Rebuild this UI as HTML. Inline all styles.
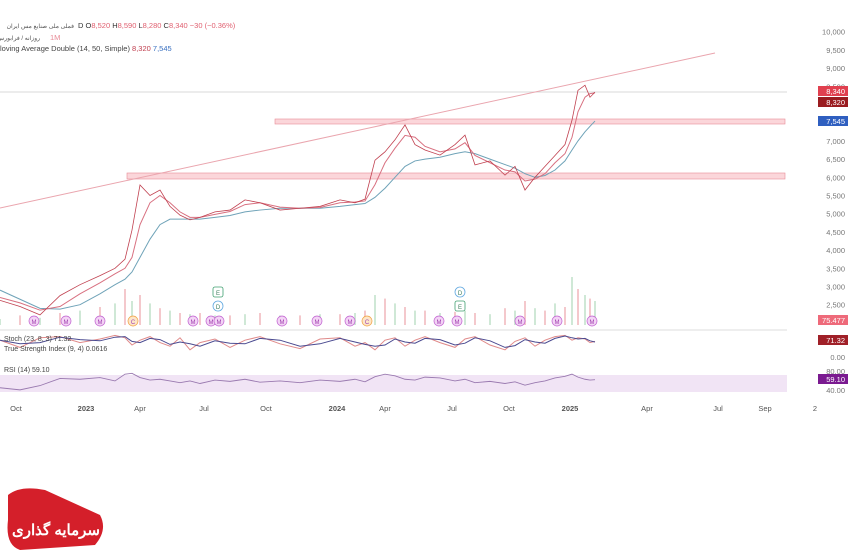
<!DOCTYPE html>
<html><head><meta charset="utf-8"><style>
body{margin:0;background:#fff;width:850px;height:560px;overflow:hidden;font-family:"Liberation Sans","Noto Sans CJK SC",sans-serif}
svg{position:absolute;left:0;top:0}
</style></head><body>
<svg id="c" width="850" height="560">
<g id="legend" font-size="7.5">
<text x="74" y="28" fill="#555" font-size="6" text-anchor="end">فملی ملی صنایع مس ایران</text>
<text x="78" y="28" fill="#333">D  O<tspan fill="#e06070">8,520</tspan>  H<tspan fill="#e06070">8,590</tspan>  L<tspan fill="#e06070">8,280</tspan>  C<tspan fill="#e06070">8,340  −30 (−0.36%)</tspan></text>
<text x="40" y="40" fill="#555" font-size="6" text-anchor="end">روزانه / فرابورس</text>
<text x="50" y="40" fill="#e88a96">1M</text>
<text x="0" y="51" fill="#444">loving Average Double (14, 50, Simple)  <tspan fill="#c04050">8,320</tspan>  <tspan fill="#3a70c0">7,545</tspan></text>
</g>
<g id="plot"></g>
<g id="axis" font-size="7.5" fill="#777"></g>
<g>
<path d="M8 495 Q20 485 45 490 L100 515 Q108 530 95 545 L20 550 Q5 545 8 520Z" fill="#d41f2a"/>
<text x="56" y="535" font-size="15" fill="#fff" font-weight="bold" text-anchor="middle">سرمایه گذاری</text>
</g>
</svg>
<script>
const dates=[0,20,40,60,80,100,115,125,132,140,150,160,170,180,190,200,215,230,245,260,280,300,320,340,355,365,375,385,395,405,415,425,440,455,465,475,490,505,515,525,535,545,555,565,572,578,585,590,595];
const closes=[2620,2450,2220,2750,3050,3300,3500,3750,4550,5790,5500,5650,5200,4960,4830,4900,5050,5100,5380,5300,5100,5150,5200,5380,5300,5400,6470,6700,7030,7440,6900,6750,6610,6900,7160,6340,6450,6060,6300,5650,6000,6300,6600,6900,7570,8390,8530,8200,8340];
const ma14=[2700,2550,2350,2450,2800,3100,3350,3500,3800,4700,5300,5500,5300,5050,4900,4900,4980,5060,5250,5300,5180,5150,5170,5300,5320,5350,5800,6400,6800,7150,7100,6850,6700,6780,6950,6600,6400,6200,6150,5900,5950,6100,6400,6650,7100,7800,8200,8300,8320];
const ma50=[2900,2650,2400,2380,2500,2800,3050,3200,3400,3800,4300,4700,4850,4850,4850,4850,4900,4950,5050,5100,5150,5150,5150,5200,5250,5280,5450,5700,6000,6300,6450,6500,6550,6650,6700,6650,6500,6350,6250,6100,6000,6050,6200,6450,6750,7000,7250,7400,7545];
const priceTicks=[10000,9500,9000,8500,7000,6500,6000,5500,5000,4500,4000,3500,3000,2500];
const timeLabels=["Oct","2023","Apr","Jul","Oct","2024","Apr","Jul","Oct","2025","Apr","Jul","Sep","2"];
const timePos=[16,86,140,204,266,337,385,452,509,570,647,718,765,815];
const stochK=[70,40,80,85,60,75,90,80,50,70,85,60,45,80,30,60,75,40,70,85,55,35,75,80,45,60,30,70,80,45,70,85,60,40,75,85,50,30,65,80,45,70,85,90,70,80,75,60,65];
const rsiVals=[50,45,55,72,70,74,66,82,84,74,68,70,66,62,66,60,68,65,70,63,66,62,68,65,70,64,76,82,78,70,68,75,73,66,70,62,65,60,64,56,62,66,73,77,82,75,70,68,69];
const volVals=[5,8,6,10,12,15,18,30,20,25,18,14,12,10,9,10,8,8,9,10,8,8,9,9,10,12,25,22,18,15,12,12,10,11,12,10,9,14,12,20,14,12,18,15,40,30,25,22,20];
const NS='http://www.w3.org/2000/svg';
const py=p=>31.7+(10000-p)/500*18.2;
const sy=v=>357-v/100*24;
const ry=v=>392-(v-40)*17/40;
const vy=v=>325-v*1.2;
const plot=document.getElementById('plot'),ax=document.getElementById('axis');
function el(t,a,par){const e=document.createElementNS(NS,t);for(const k in a)e.setAttribute(k,a[k]);(par||plot).appendChild(e);return e;}
let e=el('rect',{x:0,y:375,width:787,height:17,fill:'#f1e4f5'});

e=el('line',{x1:0,y1:92,x2:787,y2:92,stroke:'#ccc','stroke-width':0.7});

e=el('line',{x1:0,y1:330,x2:787,y2:330,stroke:'#ddd'});

e=el('rect',{x:275,y:119,width:510,height:5,fill:'#fbd6da',stroke:'#e88a96','stroke-width':0.6});

e=el('rect',{x:127,y:173,width:658,height:6,fill:'#fbd6da',stroke:'#e88a96','stroke-width':0.6});

e=el('line',{x1:0,y1:208,x2:715,y2:53,stroke:'#eaa5ae','stroke-width':1});

dates.forEach((d,i)=>{const b=el('rect',{x:d-1,y:vy(volVals[i]),width:2,height:325-vy(volVals[i]),fill:i%2?'#f4c8cc':'#cfe8d6'});
});
function line(arr,f,col,w,name){const p=el('polyline',{points:dates.map((d,i)=>d+','+f(arr[i])).join(' '),fill:'none',stroke:col,'stroke-width':w});
}
line(ma50,py,'#6fa3b8',1,'ma50-line');
line(ma14,py,'#d87080',1,'ma14-line');
line(closes,py,'#c0404f',0.8,'price-line');
line(stochK,sy,'#e08a8a',1,'stoch-d-line');
line(stochK.map((v,i)=>stochK[Math.max(0,i-1)]*0.5+v*0.5),sy,'#4a4a90',1,'stoch-k-line');
line(rsiVals,ry,'#9a7ab0',0.9,'rsi-line');
[[34,'M'],[66,'M'],[100,'M'],[133,'C'],[193,'M'],[211,'M'],[219,'M'],[282,'M'],[317,'M'],[350,'M'],[367,'C'],[439,'M'],[457,'M'],[520,'M'],[557,'M'],[592,'M']].forEach(m=>{
const g=el('g',{});
el('circle',{cx:m[0],cy:321,r:5,fill:m[1]=='C'?'#fde6c8':'#f3d4f5',stroke:m[1]=='C'?'#f0a040':'#c060d0','stroke-width':0.7},g);
el('text',{x:m[0],y:324,'font-size':6,'text-anchor':'middle',fill:'#a040b0'},g).textContent=m[1];});
[[218,292,'E'],[218,306,'D'],[460,292,'D'],[460,306,'E']].forEach(m=>{
const g=el('g',{});
el('rect',{x:m[0]-5,y:m[1]-5,width:10,height:10,rx:m[2]=='D'?5:2,fill:'#fff',stroke:m[2]=='D'?'#60a8e0':'#40a070','stroke-width':0.8},g);
el('text',{x:m[0],y:m[1]+3,'font-size':6,'text-anchor':'middle',fill:'#408060'},g).textContent=m[2];});
[[4,341,'Stoch (23, 8, 3) 71.32'],[4,351,'True Strength Index (9, 4) 0.0616'],[4,372,'RSI (14) 59.10']].forEach(t=>{
const x=el('text',{x:t[0],y:t[1],'font-size':7,fill:'#444'});x.textContent=t[2];
});
priceTicks.forEach(p=>{const t=el('text',{x:845,y:py(p)+3,'text-anchor':'end'},ax);t.textContent=p.toLocaleString('en-US');
});
[[357,'0.00'],[371,'80.00'],[390,'40.00']].forEach(a=>{const t=el('text',{x:845,y:a[0]+3,'text-anchor':'end'},ax);t.textContent=a[1];
});
timeLabels.forEach((l,i)=>{const t=el('text',{x:timePos[i],y:411,'text-anchor':'middle','font-weight':/^20/.test(l)?'bold':'normal',fill:'#555'},ax);t.textContent=l;
});
[[91,'8,340','#e0404f'],[102,'8,320','#9a1c20'],[121,'7,545','#2f5fc0'],[320,'75.477','#ee6a7a'],[340,'71.32','#a02028'],[379,'59.10','#7a1a90']].forEach(g=>{
const gg=el('g',{},ax);
el('rect',{x:818,y:g[0]-5,width:30,height:10,fill:g[2]},gg);
el('text',{x:845,y:g[0]+3,'text-anchor':'end',fill:'#fff'},gg).textContent=g[1];});
</script>
</body></html>
